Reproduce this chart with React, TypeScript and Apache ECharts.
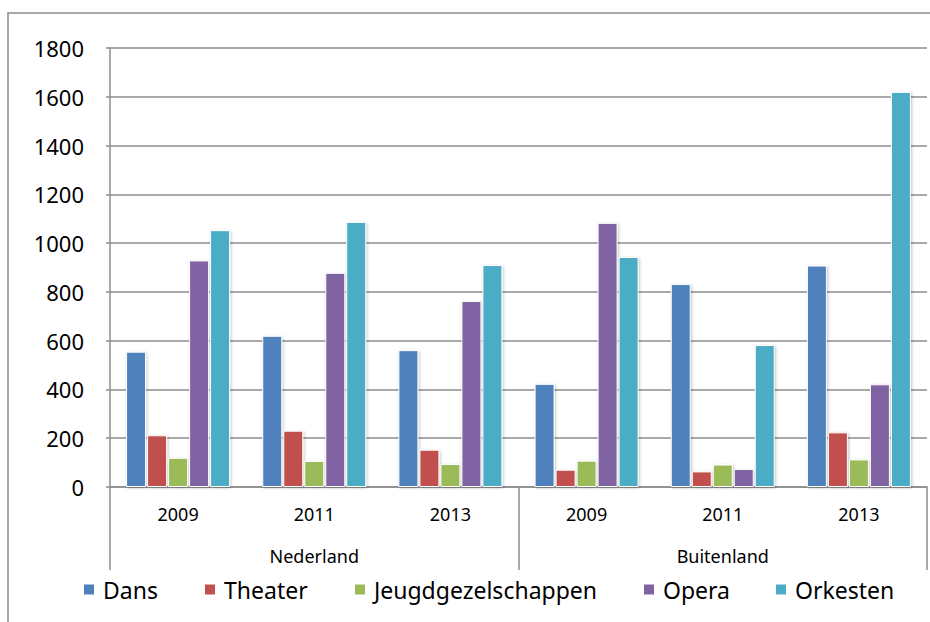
import React, { useEffect, useRef } from "react";
import * as echarts from "echarts";

const years = ["2009", "2011", "2013", "2009", "2011", "2013"];
const regions = ["Nederland", "Buitenland"];
const seriesNames = ["Dans", "Theater", "Jeugdgezelschappen", "Opera", "Orkesten"];
const dans = [555, 620, 561, 423, 832, 908];
const theater = [212, 231, 153, 71, 64, 224];
const jeugd = [120, 107, 94, 108, 92, 113];
const opera = [929, 878, 763, 1083, 74, 421];
const orkesten = [1053, 1087, 910, 943, 582, 1620];
const colors = ["#4F81BD", "#C0504D", "#9BBB59", "#8064A2", "#4BACC6"];
const legendLeft = [82, 203, 353, 642, 774];

const FONT = "Noto Sans";
const AXIS = "#8c8c8c";

export default function App() {
  const ref = useRef<HTMLDivElement>(null);
  useEffect(() => {
    if (!ref.current) return;
    const chart = echarts.init(ref.current, null, { renderer: "svg" });
    const values = [dans, theater, jeugd, opera, orkesten];
    chart.setOption({
      animation: false,
      textStyle: { fontFamily: FONT },
      graphic: [
        {
          type: "rect",
          shape: { x: 8, y: 13, width: 1000, height: 700 },
          style: { fill: "none", stroke: AXIS, lineWidth: 1.5 },
          silent: true,
        },
      ],
      grid: { left: 110, right: 3, top: 48, bottom: 135, containLabel: false },
      legend: seriesNames.map((n, i) => ({
        data: [n],
        left: legendLeft[i],
        top: 578,
        padding: 0,
        itemWidth: 12,
        itemHeight: 12,
        icon: "rect",
        textStyle: { fontFamily: FONT, fontSize: 23, color: "#000", padding: [0, 0, 0, 3] },
      })),
      xAxis: [
        {
          type: "category",
          data: years,
          position: "bottom",
          axisLine: { show: true, lineStyle: { color: AXIS, width: 1.5 } },
          axisTick: { show: false },
          axisLabel: { fontFamily: FONT, fontSize: 18, color: "#000", margin: 18, interval: 0 },
        },
        {
          type: "category",
          data: regions,
          position: "bottom",
          offset: 0,
          axisLine: { show: false },
          axisTick: { show: true, length: 83, interval: 0, lineStyle: { color: AXIS, width: 1.5 } },
          axisLabel: { fontFamily: FONT, fontSize: 18, color: "#000", margin: 60, interval: 0 },
        },
      ],
      yAxis: {
        type: "value",
        min: 0,
        max: 1800,
        interval: 200,
        axisLine: { show: true, lineStyle: { color: AXIS, width: 1.5 } },
        axisTick: { show: true, length: 4, lineStyle: { color: AXIS, width: 1.5 } },
        splitLine: { show: true, lineStyle: { color: AXIS, width: 1.5 } },
        axisLabel: {
          fontFamily: FONT,
          fontSize: 22,
          color: "#000",
          margin: 26,
          formatter: (v: number) => String(v),
        },
      },
      series: seriesNames.map((n, i) => ({
        name: n,
        type: "bar",
        xAxisIndex: 0,
        data: values[i],
        barWidth: 20,
        barGap: "5%",
        itemStyle: {
          color: colors[i],
          borderColor: "#ffffff",
          borderWidth: 1,
          shadowBlur: 3,
          shadowColor: "rgba(0,0,0,0.25)",
          shadowOffsetX: 1,
          shadowOffsetY: 1,
        },
      })),
    });
    return () => chart.dispose();
  }, []);
  return (
    <div
      ref={ref}
      style={{ position: "absolute", left: 0, top: 0, width: 930, height: 622, background: "#fff" }}
    />
  );
}
